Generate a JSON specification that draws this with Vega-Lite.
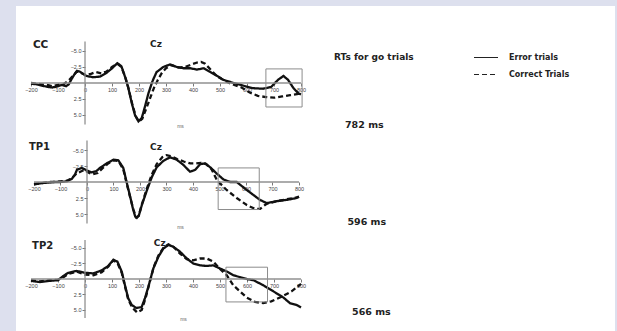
{
"$schema": "https://vega.github.io/schema/vega-lite/v6.json",
"width": 599, "height": 325,
"autosize": {"type": "none"},
"padding": {"left": 16, "top": 6, "right": 2, "bottom": 0},
"background": "#dde0ee",
"view": {"fill": "white", "stroke": null},
"config": {"font": "Liberation Sans",
  "axis": {"domain": false, "grid": false, "labelFont": "Liberation Sans", "labelFontSize": 5.5, "labelColor": "#444", "tickColor": "#777", "tickSize": 3, "labelPadding": 1, "labelOverlap": false, "labelFlush": false, "titleFont": "Liberation Sans", "titleFontSize": 5, "titleFontWeight": "normal", "titleColor": "#666", "titleAlign": "center", "titleBaseline": "middle"},
  "text": {"font": "DejaVu Sans", "fontWeight": "bold", "color": "#222", "align": "left", "baseline": "middle"}
},
"datasets": {
"one": [{}],
"win": [
 {"panel": "CC", "t0": 670, "t1": 804, "v0": -2.2, "v1": 3.75},
 {"panel": "TP1", "t0": 495, "t1": 650, "v0": -2.2, "v1": 4.3},
 {"panel": "TP2", "t0": 522, "t1": 676, "v0": -1.9, "v1": 3.7}
],
"erp": [
{"panel":"CC","trial":"Error trials","ms":-200,"uv":0.1},{"panel":"CC","trial":"Error trials","ms":-180,"uv":0.2},{"panel":"CC","trial":"Error trials","ms":-160,"uv":0.4},{"panel":"CC","trial":"Error trials","ms":-140,"uv":0.6},{"panel":"CC","trial":"Error trials","ms":-120,"uv":0.7},{"panel":"CC","trial":"Error trials","ms":-100,"uv":0.5},{"panel":"CC","trial":"Error trials","ms":-85,"uv":0.3},{"panel":"CC","trial":"Error trials","ms":-70,"uv":0.5},{"panel":"CC","trial":"Error trials","ms":-60,"uv":0.2},{"panel":"CC","trial":"Error trials","ms":-50,"uv":-0.6},{"panel":"CC","trial":"Error trials","ms":-40,"uv":-1.3},{"panel":"CC","trial":"Error trials","ms":-30,"uv":-1.9},{"panel":"CC","trial":"Error trials","ms":-20,"uv":-1.8},{"panel":"CC","trial":"Error trials","ms":-10,"uv":-1.5},{"panel":"CC","trial":"Error trials","ms":5,"uv":-1.1},{"panel":"CC","trial":"Error trials","ms":30,"uv":-0.9},{"panel":"CC","trial":"Error trials","ms":55,"uv":-1.0},{"panel":"CC","trial":"Error trials","ms":80,"uv":-1.6},{"panel":"CC","trial":"Error trials","ms":100,"uv":-2.3},{"panel":"CC","trial":"Error trials","ms":120,"uv":-3.1},{"panel":"CC","trial":"Error trials","ms":135,"uv":-2.6},{"panel":"CC","trial":"Error trials","ms":148,"uv":-1.0},{"panel":"CC","trial":"Error trials","ms":160,"uv":0.7},{"panel":"CC","trial":"Error trials","ms":173,"uv":3.1},{"panel":"CC","trial":"Error trials","ms":185,"uv":5.0},{"panel":"CC","trial":"Error trials","ms":198,"uv":6.0},{"panel":"CC","trial":"Error trials","ms":210,"uv":5.5},{"panel":"CC","trial":"Error trials","ms":222,"uv":3.7},{"panel":"CC","trial":"Error trials","ms":235,"uv":1.6},{"panel":"CC","trial":"Error trials","ms":250,"uv":-0.3},{"panel":"CC","trial":"Error trials","ms":265,"uv":-1.7},{"panel":"CC","trial":"Error trials","ms":290,"uv":-2.5},{"panel":"CC","trial":"Error trials","ms":315,"uv":-2.9},{"panel":"CC","trial":"Error trials","ms":340,"uv":-2.5},{"panel":"CC","trial":"Error trials","ms":365,"uv":-2.3},{"panel":"CC","trial":"Error trials","ms":390,"uv":-2.3},{"panel":"CC","trial":"Error trials","ms":415,"uv":-2.1},{"panel":"CC","trial":"Error trials","ms":440,"uv":-2.3},{"panel":"CC","trial":"Error trials","ms":465,"uv":-1.7},{"panel":"CC","trial":"Error trials","ms":490,"uv":-1.1},{"panel":"CC","trial":"Error trials","ms":512,"uv":-0.5},{"panel":"CC","trial":"Error trials","ms":550,"uv":0.0},{"panel":"CC","trial":"Error trials","ms":585,"uv":0.4},{"panel":"CC","trial":"Error trials","ms":620,"uv":0.8},{"panel":"CC","trial":"Error trials","ms":660,"uv":0.9},{"panel":"CC","trial":"Error trials","ms":690,"uv":0.6},{"panel":"CC","trial":"Error trials","ms":715,"uv":-0.5},{"panel":"CC","trial":"Error trials","ms":735,"uv":-1.1},{"panel":"CC","trial":"Error trials","ms":752,"uv":-0.5},{"panel":"CC","trial":"Error trials","ms":772,"uv":0.8},{"panel":"CC","trial":"Error trials","ms":790,"uv":1.6},{"panel":"CC","trial":"Error trials","ms":800,"uv":1.8},
{"panel":"CC","trial":"Correct Trials","ms":-200,"uv":0.0},{"panel":"CC","trial":"Correct Trials","ms":-180,"uv":0.1},{"panel":"CC","trial":"Correct Trials","ms":-160,"uv":0.2},{"panel":"CC","trial":"Correct Trials","ms":-140,"uv":0.3},{"panel":"CC","trial":"Correct Trials","ms":-120,"uv":0.5},{"panel":"CC","trial":"Correct Trials","ms":-100,"uv":0.3},{"panel":"CC","trial":"Correct Trials","ms":-80,"uv":0.2},{"panel":"CC","trial":"Correct Trials","ms":-60,"uv":-0.4},{"panel":"CC","trial":"Correct Trials","ms":-45,"uv":-1.1},{"panel":"CC","trial":"Correct Trials","ms":-30,"uv":-1.8},{"panel":"CC","trial":"Correct Trials","ms":-15,"uv":-1.6},{"panel":"CC","trial":"Correct Trials","ms":0,"uv":-1.3},{"panel":"CC","trial":"Correct Trials","ms":20,"uv":-1.4},{"panel":"CC","trial":"Correct Trials","ms":40,"uv":-1.7},{"panel":"CC","trial":"Correct Trials","ms":60,"uv":-1.5},{"panel":"CC","trial":"Correct Trials","ms":80,"uv":-1.8},{"panel":"CC","trial":"Correct Trials","ms":100,"uv":-2.5},{"panel":"CC","trial":"Correct Trials","ms":120,"uv":-3.0},{"panel":"CC","trial":"Correct Trials","ms":135,"uv":-2.5},{"panel":"CC","trial":"Correct Trials","ms":150,"uv":-0.8},{"panel":"CC","trial":"Correct Trials","ms":162,"uv":1.0},{"panel":"CC","trial":"Correct Trials","ms":175,"uv":3.3},{"panel":"CC","trial":"Correct Trials","ms":188,"uv":5.2},{"panel":"CC","trial":"Correct Trials","ms":200,"uv":6.0},{"panel":"CC","trial":"Correct Trials","ms":212,"uv":5.6},{"panel":"CC","trial":"Correct Trials","ms":225,"uv":4.2},{"panel":"CC","trial":"Correct Trials","ms":240,"uv":2.5},{"panel":"CC","trial":"Correct Trials","ms":255,"uv":0.8},{"panel":"CC","trial":"Correct Trials","ms":270,"uv":-0.5},{"panel":"CC","trial":"Correct Trials","ms":285,"uv":-1.6},{"panel":"CC","trial":"Correct Trials","ms":300,"uv":-2.3},{"panel":"CC","trial":"Correct Trials","ms":320,"uv":-2.8},{"panel":"CC","trial":"Correct Trials","ms":345,"uv":-2.4},{"panel":"CC","trial":"Correct Trials","ms":370,"uv":-2.5},{"panel":"CC","trial":"Correct Trials","ms":395,"uv":-2.9},{"panel":"CC","trial":"Correct Trials","ms":415,"uv":-3.2},{"panel":"CC","trial":"Correct Trials","ms":430,"uv":-3.3},{"panel":"CC","trial":"Correct Trials","ms":445,"uv":-3.0},{"panel":"CC","trial":"Correct Trials","ms":465,"uv":-2.1},{"panel":"CC","trial":"Correct Trials","ms":490,"uv":-1.0},{"panel":"CC","trial":"Correct Trials","ms":515,"uv":-0.4},{"panel":"CC","trial":"Correct Trials","ms":545,"uv":0.2},{"panel":"CC","trial":"Correct Trials","ms":580,"uv":0.7},{"panel":"CC","trial":"Correct Trials","ms":610,"uv":1.5},{"panel":"CC","trial":"Correct Trials","ms":640,"uv":2.0},{"panel":"CC","trial":"Correct Trials","ms":670,"uv":2.2},{"panel":"CC","trial":"Correct Trials","ms":700,"uv":2.3},{"panel":"CC","trial":"Correct Trials","ms":730,"uv":2.1},{"panel":"CC","trial":"Correct Trials","ms":760,"uv":1.9},{"panel":"CC","trial":"Correct Trials","ms":790,"uv":1.7},{"panel":"CC","trial":"Correct Trials","ms":800,"uv":1.5},
{"panel":"TP1","trial":"Error trials","ms":-200,"uv":0.4},{"panel":"TP1","trial":"Error trials","ms":-175,"uv":0.2},{"panel":"TP1","trial":"Error trials","ms":-150,"uv":0.1},{"panel":"TP1","trial":"Error trials","ms":-125,"uv":0.0},{"panel":"TP1","trial":"Error trials","ms":-100,"uv":0.0},{"panel":"TP1","trial":"Error trials","ms":-76,"uv":-0.1},{"panel":"TP1","trial":"Error trials","ms":-57,"uv":-0.5},{"panel":"TP1","trial":"Error trials","ms":-45,"uv":-1.2},{"panel":"TP1","trial":"Error trials","ms":-38,"uv":-1.9},{"panel":"TP1","trial":"Error trials","ms":-20,"uv":-2.2},{"panel":"TP1","trial":"Error trials","ms":0,"uv":-1.8},{"panel":"TP1","trial":"Error trials","ms":18,"uv":-1.5},{"panel":"TP1","trial":"Error trials","ms":35,"uv":-1.7},{"panel":"TP1","trial":"Error trials","ms":49,"uv":-2.2},{"panel":"TP1","trial":"Error trials","ms":74,"uv":-2.9},{"panel":"TP1","trial":"Error trials","ms":100,"uv":-3.5},{"panel":"TP1","trial":"Error trials","ms":118,"uv":-3.4},{"panel":"TP1","trial":"Error trials","ms":137,"uv":-2.2},{"panel":"TP1","trial":"Error trials","ms":150,"uv":0.1},{"panel":"TP1","trial":"Error trials","ms":163,"uv":2.3},{"panel":"TP1","trial":"Error trials","ms":173,"uv":4.1},{"panel":"TP1","trial":"Error trials","ms":182,"uv":5.4},{"panel":"TP1","trial":"Error trials","ms":188,"uv":5.6},{"panel":"TP1","trial":"Error trials","ms":196,"uv":5.2},{"panel":"TP1","trial":"Error trials","ms":207,"uv":3.6},{"panel":"TP1","trial":"Error trials","ms":226,"uv":1.3},{"panel":"TP1","trial":"Error trials","ms":245,"uv":-0.8},{"panel":"TP1","trial":"Error trials","ms":263,"uv":-2.3},{"panel":"TP1","trial":"Error trials","ms":288,"uv":-3.3},{"panel":"TP1","trial":"Error trials","ms":313,"uv":-3.85},{"panel":"TP1","trial":"Error trials","ms":338,"uv":-3.5},{"panel":"TP1","trial":"Error trials","ms":363,"uv":-2.7},{"panel":"TP1","trial":"Error trials","ms":389,"uv":-1.6},{"panel":"TP1","trial":"Error trials","ms":408,"uv":-1.9},{"panel":"TP1","trial":"Error trials","ms":427,"uv":-2.8},{"panel":"TP1","trial":"Error trials","ms":446,"uv":-2.9},{"panel":"TP1","trial":"Error trials","ms":465,"uv":-2.3},{"panel":"TP1","trial":"Error trials","ms":490,"uv":-1.3},{"panel":"TP1","trial":"Error trials","ms":515,"uv":-0.4},{"panel":"TP1","trial":"Error trials","ms":540,"uv":0.0},{"panel":"TP1","trial":"Error trials","ms":565,"uv":0.0},{"panel":"TP1","trial":"Error trials","ms":603,"uv":1.25},{"panel":"TP1","trial":"Error trials","ms":653,"uv":2.8},{"panel":"TP1","trial":"Error trials","ms":678,"uv":3.3},{"panel":"TP1","trial":"Error trials","ms":715,"uv":3.0},{"panel":"TP1","trial":"Error trials","ms":753,"uv":2.8},{"panel":"TP1","trial":"Error trials","ms":791,"uv":2.5},{"panel":"TP1","trial":"Error trials","ms":800,"uv":2.3},
{"panel":"TP1","trial":"Correct Trials","ms":-200,"uv":0.3},{"panel":"TP1","trial":"Correct Trials","ms":-175,"uv":0.2},{"panel":"TP1","trial":"Correct Trials","ms":-150,"uv":0.0},{"panel":"TP1","trial":"Correct Trials","ms":-125,"uv":0.0},{"panel":"TP1","trial":"Correct Trials","ms":-100,"uv":-0.1},{"panel":"TP1","trial":"Correct Trials","ms":-76,"uv":-0.2},{"panel":"TP1","trial":"Correct Trials","ms":-57,"uv":-0.6},{"panel":"TP1","trial":"Correct Trials","ms":-40,"uv":-1.3},{"panel":"TP1","trial":"Correct Trials","ms":-25,"uv":-1.6},{"panel":"TP1","trial":"Correct Trials","ms":-10,"uv":-1.9},{"panel":"TP1","trial":"Correct Trials","ms":5,"uv":-1.5},{"panel":"TP1","trial":"Correct Trials","ms":20,"uv":-1.2},{"panel":"TP1","trial":"Correct Trials","ms":40,"uv":-1.4},{"panel":"TP1","trial":"Correct Trials","ms":60,"uv":-2.2},{"panel":"TP1","trial":"Correct Trials","ms":80,"uv":-2.9},{"panel":"TP1","trial":"Correct Trials","ms":100,"uv":-3.4},{"panel":"TP1","trial":"Correct Trials","ms":118,"uv":-3.3},{"panel":"TP1","trial":"Correct Trials","ms":137,"uv":-2.0},{"panel":"TP1","trial":"Correct Trials","ms":150,"uv":0.3},{"panel":"TP1","trial":"Correct Trials","ms":163,"uv":2.4},{"panel":"TP1","trial":"Correct Trials","ms":175,"uv":4.3},{"panel":"TP1","trial":"Correct Trials","ms":185,"uv":5.5},{"panel":"TP1","trial":"Correct Trials","ms":195,"uv":5.3},{"panel":"TP1","trial":"Correct Trials","ms":207,"uv":3.5},{"panel":"TP1","trial":"Correct Trials","ms":226,"uv":1.0},{"panel":"TP1","trial":"Correct Trials","ms":245,"uv":-1.2},{"panel":"TP1","trial":"Correct Trials","ms":263,"uv":-2.8},{"panel":"TP1","trial":"Correct Trials","ms":285,"uv":-3.9},{"panel":"TP1","trial":"Correct Trials","ms":300,"uv":-4.2},{"panel":"TP1","trial":"Correct Trials","ms":320,"uv":-4.0},{"panel":"TP1","trial":"Correct Trials","ms":340,"uv":-3.6},{"panel":"TP1","trial":"Correct Trials","ms":365,"uv":-3.2},{"panel":"TP1","trial":"Correct Trials","ms":390,"uv":-2.9},{"panel":"TP1","trial":"Correct Trials","ms":410,"uv":-2.9},{"panel":"TP1","trial":"Correct Trials","ms":430,"uv":-3.0},{"panel":"TP1","trial":"Correct Trials","ms":450,"uv":-2.8},{"panel":"TP1","trial":"Correct Trials","ms":470,"uv":-2.0},{"panel":"TP1","trial":"Correct Trials","ms":490,"uv":-0.3},{"panel":"TP1","trial":"Correct Trials","ms":527,"uv":1.25},{"panel":"TP1","trial":"Correct Trials","ms":565,"uv":2.5},{"panel":"TP1","trial":"Correct Trials","ms":603,"uv":3.6},{"panel":"TP1","trial":"Correct Trials","ms":634,"uv":4.2},{"panel":"TP1","trial":"Correct Trials","ms":653,"uv":4.2},{"panel":"TP1","trial":"Correct Trials","ms":678,"uv":3.4},{"panel":"TP1","trial":"Correct Trials","ms":715,"uv":3.0},{"panel":"TP1","trial":"Correct Trials","ms":753,"uv":2.7},{"panel":"TP1","trial":"Correct Trials","ms":791,"uv":2.4},{"panel":"TP1","trial":"Correct Trials","ms":800,"uv":2.3},
{"panel":"TP2","trial":"Error trials","ms":-200,"uv":0.3},{"panel":"TP2","trial":"Error trials","ms":-167,"uv":0.5},{"panel":"TP2","trial":"Error trials","ms":-130,"uv":0.3},{"panel":"TP2","trial":"Error trials","ms":-100,"uv":0.2},{"panel":"TP2","trial":"Error trials","ms":-80,"uv":-0.5},{"panel":"TP2","trial":"Error trials","ms":-62,"uv":-1.0},{"panel":"TP2","trial":"Error trials","ms":-31,"uv":-1.3},{"panel":"TP2","trial":"Error trials","ms":0,"uv":-1.0},{"panel":"TP2","trial":"Error trials","ms":31,"uv":-0.9},{"panel":"TP2","trial":"Error trials","ms":62,"uv":-1.4},{"panel":"TP2","trial":"Error trials","ms":86,"uv":-2.1},{"panel":"TP2","trial":"Error trials","ms":105,"uv":-3.1},{"panel":"TP2","trial":"Error trials","ms":120,"uv":-2.8},{"panel":"TP2","trial":"Error trials","ms":136,"uv":-1.2},{"panel":"TP2","trial":"Error trials","ms":148,"uv":1.0},{"panel":"TP2","trial":"Error trials","ms":160,"uv":3.1},{"panel":"TP2","trial":"Error trials","ms":173,"uv":4.2},{"panel":"TP2","trial":"Error trials","ms":191,"uv":4.7},{"panel":"TP2","trial":"Error trials","ms":210,"uv":4.5},{"panel":"TP2","trial":"Error trials","ms":222,"uv":3.1},{"panel":"TP2","trial":"Error trials","ms":235,"uv":1.2},{"panel":"TP2","trial":"Error trials","ms":253,"uv":-1.7},{"panel":"TP2","trial":"Error trials","ms":272,"uv":-3.6},{"panel":"TP2","trial":"Error trials","ms":290,"uv":-4.9},{"panel":"TP2","trial":"Error trials","ms":309,"uv":-5.5},{"panel":"TP2","trial":"Error trials","ms":327,"uv":-5.2},{"panel":"TP2","trial":"Error trials","ms":352,"uv":-4.4},{"panel":"TP2","trial":"Error trials","ms":377,"uv":-3.3},{"panel":"TP2","trial":"Error trials","ms":401,"uv":-2.5},{"panel":"TP2","trial":"Error trials","ms":426,"uv":-2.2},{"panel":"TP2","trial":"Error trials","ms":451,"uv":-2.1},{"panel":"TP2","trial":"Error trials","ms":475,"uv":-2.2},{"panel":"TP2","trial":"Error trials","ms":500,"uv":-1.7},{"panel":"TP2","trial":"Error trials","ms":525,"uv":-1.2},{"panel":"TP2","trial":"Error trials","ms":549,"uv":-0.6},{"panel":"TP2","trial":"Error trials","ms":574,"uv":-0.3},{"panel":"TP2","trial":"Error trials","ms":599,"uv":0.0},{"panel":"TP2","trial":"Error trials","ms":624,"uv":0.2},{"panel":"TP2","trial":"Error trials","ms":660,"uv":1.0},{"panel":"TP2","trial":"Error trials","ms":698,"uv":2.0},{"panel":"TP2","trial":"Error trials","ms":735,"uv":3.0},{"panel":"TP2","trial":"Error trials","ms":759,"uv":3.9},{"panel":"TP2","trial":"Error trials","ms":784,"uv":4.2},{"panel":"TP2","trial":"Error trials","ms":800,"uv":4.6},
{"panel":"TP2","trial":"Correct Trials","ms":-200,"uv":0.2},{"panel":"TP2","trial":"Correct Trials","ms":-167,"uv":0.4},{"panel":"TP2","trial":"Correct Trials","ms":-130,"uv":0.2},{"panel":"TP2","trial":"Correct Trials","ms":-100,"uv":0.1},{"panel":"TP2","trial":"Correct Trials","ms":-80,"uv":-0.3},{"panel":"TP2","trial":"Correct Trials","ms":-62,"uv":-0.8},{"panel":"TP2","trial":"Correct Trials","ms":-31,"uv":-1.2},{"panel":"TP2","trial":"Correct Trials","ms":0,"uv":-0.7},{"panel":"TP2","trial":"Correct Trials","ms":31,"uv":-0.6},{"panel":"TP2","trial":"Correct Trials","ms":62,"uv":-1.1},{"panel":"TP2","trial":"Correct Trials","ms":86,"uv":-2.0},{"panel":"TP2","trial":"Correct Trials","ms":105,"uv":-3.0},{"panel":"TP2","trial":"Correct Trials","ms":120,"uv":-2.6},{"panel":"TP2","trial":"Correct Trials","ms":136,"uv":-1.0},{"panel":"TP2","trial":"Correct Trials","ms":148,"uv":1.2},{"panel":"TP2","trial":"Correct Trials","ms":160,"uv":3.3},{"panel":"TP2","trial":"Correct Trials","ms":175,"uv":4.6},{"panel":"TP2","trial":"Correct Trials","ms":193,"uv":5.4},{"panel":"TP2","trial":"Correct Trials","ms":210,"uv":5.0},{"panel":"TP2","trial":"Correct Trials","ms":225,"uv":3.0},{"panel":"TP2","trial":"Correct Trials","ms":238,"uv":0.8},{"panel":"TP2","trial":"Correct Trials","ms":255,"uv":-2.0},{"panel":"TP2","trial":"Correct Trials","ms":272,"uv":-3.8},{"panel":"TP2","trial":"Correct Trials","ms":290,"uv":-5.0},{"panel":"TP2","trial":"Correct Trials","ms":309,"uv":-5.6},{"panel":"TP2","trial":"Correct Trials","ms":327,"uv":-5.2},{"panel":"TP2","trial":"Correct Trials","ms":352,"uv":-4.1},{"panel":"TP2","trial":"Correct Trials","ms":377,"uv":-3.2},{"panel":"TP2","trial":"Correct Trials","ms":401,"uv":-3.0},{"panel":"TP2","trial":"Correct Trials","ms":426,"uv":-3.3},{"panel":"TP2","trial":"Correct Trials","ms":451,"uv":-3.3},{"panel":"TP2","trial":"Correct Trials","ms":475,"uv":-2.8},{"panel":"TP2","trial":"Correct Trials","ms":500,"uv":-1.6},{"panel":"TP2","trial":"Correct Trials","ms":525,"uv":-0.6},{"panel":"TP2","trial":"Correct Trials","ms":549,"uv":1.0},{"panel":"TP2","trial":"Correct Trials","ms":574,"uv":2.0},{"panel":"TP2","trial":"Correct Trials","ms":599,"uv":3.0},{"panel":"TP2","trial":"Correct Trials","ms":630,"uv":3.7},{"panel":"TP2","trial":"Correct Trials","ms":660,"uv":3.9},{"panel":"TP2","trial":"Correct Trials","ms":690,"uv":3.6},{"panel":"TP2","trial":"Correct Trials","ms":722,"uv":3.0},{"panel":"TP2","trial":"Correct Trials","ms":765,"uv":2.0},{"panel":"TP2","trial":"Correct Trials","ms":800,"uv":0.8}
]
},
"resolve": {"scale": {"x": "independent", "y": "independent"}, "axis": {"x": "independent", "y": "independent"}},
"layer": [
 {
  "layer": [
   {"data": {"name": "erp"}, "transform": [{"filter": "datum.panel === 'CC'"}],
    "mark": {"type": "line", "strokeWidth": 2.3, "color": "#111"},
    "encoding": {
     "x": {"field": "ms", "type": "quantitative", "scale": {"domain": [-255.6, 1963], "nice": false, "zero": false},
       "axis": {"orient": "bottom", "offset": -248, "values": [-200,-100,0,100,200,300,400,500,600,700,800], "title": "ms", "titleX": 164, "titleY": 42}},
     "y": {"field": "uv", "type": "quantitative", "scale": {"domain": [-12.03, 38.75], "nice": false, "zero": false, "reverse": true},
       "axis": {"orient": "left", "offset": -69, "values": [-5,-2.5,2.5,5], "format": ".1f", "title": null}},
     "strokeDash": {"field": "trial", "type": "nominal", "scale": {"domain": ["Error trials", "Correct Trials"], "range": [[1,0],[5,3]]},
       "legend": {"orient": "none", "legendX": 457, "legendY": 38.5, "title": null, "symbolType": "stroke", "symbolSize": 576, "symbolStrokeWidth": 1.1, "symbolStrokeColor": "#222", "labelFont": "DejaVu Sans", "labelFontWeight": "bold", "labelFontSize": 8, "labelColor": "#222", "labelOffset": 10, "rowPadding": -7, "padding": 0}}
    }},
   {"data": {"name": "win"}, "transform": [{"filter": "datum.panel === 'CC'"}],
    "mark": {"type": "rect", "fillOpacity": 0, "stroke": "#8c8c8c", "strokeWidth": 1},
    "encoding": {"x": {"field": "t0", "type": "quantitative"}, "x2": {"field": "t1"}, "y": {"field": "v0", "type": "quantitative"}, "y2": {"field": "v1"}}},
   {"data": {"name": "one"}, "mark": {"type": "rule", "color": "#909090", "strokeWidth": 1.3}, "encoding": {"x": {"datum": -200}, "x2": {"datum": 800}, "y": {"datum": 0}}},
   {"data": {"name": "one"}, "mark": {"type": "rule", "color": "#909090", "strokeWidth": 1.3}, "encoding": {"x": {"datum": 0}, "y": {"datum": -6.5}, "y2": {"datum": 6.5}}},
   {"data": {"name": "one"}, "mark": {"type": "text", "fontSize": 10.5}, "encoding": {"x": {"datum": -193}, "y": {"datum": -5.94}, "text": {"value": "CC"}}},
   {"data": {"name": "one"}, "mark": {"type": "text", "fontSize": 9}, "encoding": {"x": {"datum": 241}, "y": {"datum": -6.1}, "text": {"value": "Cz"}}},
   {"data": {"name": "one"}, "mark": {"type": "text", "fontSize": 9}, "encoding": {"x": {"datum": 922}, "y": {"datum": -4.1}, "text": {"value": "RTs for go trials"}}},
   {"data": {"name": "one"}, "mark": {"type": "text", "fontSize": 9.5}, "encoding": {"x": {"datum": 963}, "y": {"datum": 6.6}, "text": {"value": "782 ms"}}}
  ]
 },
 {
  "layer": [
   {"data": {"name": "erp"}, "transform": [{"filter": "datum.panel === 'TP1'"}],
    "mark": {"type": "line", "strokeWidth": 2.3, "color": "#111"},
    "encoding": {
     "x": {"field": "ms", "type": "quantitative", "scale": {"domain": [-267.9, 1992.5], "nice": false, "zero": false},
       "axis": {"orient": "bottom", "offset": -149, "values": [-200,-100,0,100,200,300,400,500,600,700,800], "title": "ms", "titleX": 164, "titleY": 44}},
     "y": {"field": "uv", "type": "quantitative", "scale": {"domain": [-27.5, 23.28], "nice": false, "zero": false, "reverse": true},
       "axis": {"orient": "left", "offset": -71, "values": [-5,-2.5,2.5,5], "format": ".1f", "title": null}},
     "strokeDash": {"field": "trial", "type": "nominal", "scale": {"domain": ["Error trials", "Correct Trials"], "range": [[1,0],[5,3]]},
       "legend": {"orient": "none", "legendX": 457, "legendY": 38.5, "title": null, "symbolType": "stroke", "symbolSize": 576, "symbolStrokeWidth": 1.1, "symbolStrokeColor": "#222", "labelFont": "DejaVu Sans", "labelFontWeight": "bold", "labelFontSize": 8, "labelColor": "#222", "labelOffset": 10, "rowPadding": -7, "padding": 0}}
    }},
   {"data": {"name": "win"}, "transform": [{"filter": "datum.panel === 'TP1'"}],
    "mark": {"type": "rect", "fillOpacity": 0, "stroke": "#8c8c8c", "strokeWidth": 1},
    "encoding": {"x": {"field": "t0", "type": "quantitative"}, "x2": {"field": "t1"}, "y": {"field": "v0", "type": "quantitative"}, "y2": {"field": "v1"}}},
   {"data": {"name": "one"}, "mark": {"type": "rule", "color": "#909090", "strokeWidth": 1.3}, "encoding": {"x": {"datum": -200}, "x2": {"datum": 800}, "y": {"datum": 0}}},
   {"data": {"name": "one"}, "mark": {"type": "rule", "color": "#909090", "strokeWidth": 1.3}, "encoding": {"x": {"datum": 0}, "y": {"datum": -6.5}, "y2": {"datum": 6.5}}},
   {"data": {"name": "one"}, "mark": {"type": "text", "fontSize": 10}, "encoding": {"x": {"datum": -219}, "y": {"datum": -5.47}, "text": {"value": "TP1"}}},
   {"data": {"name": "one"}, "mark": {"type": "text", "fontSize": 9}, "encoding": {"x": {"datum": 238}, "y": {"datum": -5.47}, "text": {"value": "Cz"}}},
   {"data": {"name": "one"}, "mark": {"type": "text", "fontSize": 9.5}, "encoding": {"x": {"datum": 983}, "y": {"datum": 6.3}, "text": {"value": "596 ms"}}}
  ]
 },
 {
  "layer": [
   {"data": {"name": "erp"}, "transform": [{"filter": "datum.panel === 'TP2'"}],
    "mark": {"type": "line", "strokeWidth": 2.3, "color": "#111"},
    "encoding": {
     "x": {"field": "ms", "type": "quantitative", "scale": {"domain": [-255.6, 1963], "nice": false, "zero": false},
       "axis": {"orient": "bottom", "offset": -52, "values": [-200,-100,0,100,200,300,400,500,600,700,800], "title": "ms", "titleX": 167, "titleY": 39}},
     "y": {"field": "uv", "type": "quantitative", "scale": {"domain": [-44.03, 8.39], "nice": false, "zero": false, "reverse": true},
       "axis": {"orient": "left", "offset": -69, "values": [-5,-2.5,2.5,5], "format": ".1f", "title": null}},
     "strokeDash": {"field": "trial", "type": "nominal", "scale": {"domain": ["Error trials", "Correct Trials"], "range": [[1,0],[5,3]]},
       "legend": {"orient": "none", "legendX": 457, "legendY": 38.5, "title": null, "symbolType": "stroke", "symbolSize": 576, "symbolStrokeWidth": 1.1, "symbolStrokeColor": "#222", "labelFont": "DejaVu Sans", "labelFontWeight": "bold", "labelFontSize": 8, "labelColor": "#222", "labelOffset": 10, "rowPadding": -7, "padding": 0}}
    }},
   {"data": {"name": "win"}, "transform": [{"filter": "datum.panel === 'TP2'"}],
    "mark": {"type": "rect", "fillOpacity": 0, "stroke": "#8c8c8c", "strokeWidth": 1},
    "encoding": {"x": {"field": "t0", "type": "quantitative"}, "x2": {"field": "t1"}, "y": {"field": "v0", "type": "quantitative"}, "y2": {"field": "v1"}}},
   {"data": {"name": "one"}, "mark": {"type": "rule", "color": "#909090", "strokeWidth": 1.3}, "encoding": {"x": {"datum": -200}, "x2": {"datum": 800}, "y": {"datum": 0}}},
   {"data": {"name": "one"}, "mark": {"type": "rule", "color": "#909090", "strokeWidth": 1.3}, "encoding": {"x": {"datum": 0}, "y": {"datum": -6.3}, "y2": {"datum": 6.3}}},
   {"data": {"name": "one"}, "mark": {"type": "text", "fontSize": 10}, "encoding": {"x": {"datum": -196}, "y": {"datum": -5.3}, "text": {"value": "TP2"}}},
   {"data": {"name": "one"}, "mark": {"type": "text", "fontSize": 9}, "encoding": {"x": {"datum": 255}, "y": {"datum": -5.8}, "text": {"value": "Cz"}}},
   {"data": {"name": "one"}, "mark": {"type": "text", "fontSize": 9.5}, "encoding": {"x": {"datum": 989}, "y": {"datum": 5.4}, "text": {"value": "566 ms"}}}
  ]
 }
]
}
